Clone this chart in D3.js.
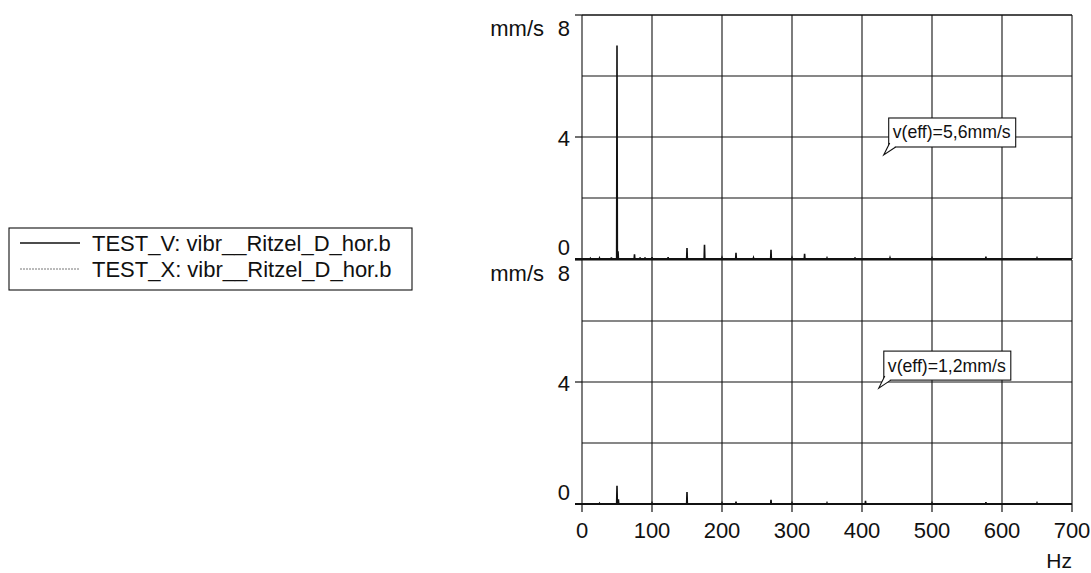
<!DOCTYPE html>
<html>
<head>
<meta charset="utf-8">
<script src="https://cdn.jsdelivr.net/npm/d3@7"></script>
<style>
  html, body { margin: 0; padding: 0; background: #fff; }
  svg { display: block; font-family: "Liberation Sans", Arial, sans-serif; }
</style>
</head>
<body>
<svg id="chart" width="1091" height="573"></svg>
<script>
// Frequency axis (Hz) and amplitude ticks (mm/s)
const xTicks = [0, 100, 200, 300, 400, 500, 600, 700];
const yGrid = [0, 2, 4, 6, 8];
const yLabels = [0, 4, 8];

// Spectrum lines of the upper channel (TEST_V): frequency in Hz, amplitude in mm/s
const freqV = [12, 25, 42, 50, 51.5, 75, 83, 90, 100, 123, 150, 175, 200, 220, 245, 270, 300, 318, 350, 390, 440, 500, 577, 650];
const ampV  = [0.02, 0.03, 0.05, 7.0, 0.25, 0.15, 0.05, 0.05, 0.06, 0.06, 0.36, 0.47, 0.04, 0.2, 0.04, 0.3, 0.04, 0.17, 0.03, 0.05, 0.04, 0.03, 0.08, 0.03];

// Spectrum lines of the lower channel (TEST_X)
const freqX = [25, 50, 52, 100, 150, 200, 220, 270, 300, 350, 405, 500, 577, 650];
const ampX  = [0.02, 0.6, 0.15, 0.03, 0.39, 0.03, 0.08, 0.14, 0.03, 0.03, 0.1, 0.03, 0.06, 0.03];

const seriesNames = ["TEST_V: vibr__Ritzel_D_hor.b", "TEST_X: vibr__Ritzel_D_hor.b"];
const effLabels = ["v(eff)=5,6mm/s", "v(eff)=1,2mm/s"];
// callout pointer position per panel [Hz, mm/s]
const effAnchorF = [431, 424];
const effAnchorV = [3.41, 3.8];

const svg = d3.select("#chart");
const ink = "#111";
const fs = 22;

const x = d3.scaleLinear().domain([0, 700]).range([582, 1072]);
const panels = [
  { y: d3.scaleLinear().domain([0, 8]).range([259, 15]), f: freqV, a: ampV },
  { y: d3.scaleLinear().domain([0, 8]).range([504, 260]), f: freqX, a: ampX }
];
// label baseline offsets relative to the tick line
const labelDy = { 0: -4, 4: 9, 8: 21 };

panels.forEach((p, i) => {
  const g = svg.append("g");
  const y = p.y;

  // grid
  g.selectAll(".vg").data(xTicks).join("line")
    .attr("x1", d => x(d)).attr("x2", d => x(d))
    .attr("y1", y(8)).attr("y2", y(0))
    .attr("stroke", ink).attr("stroke-width", 1.1);
  g.selectAll(".hg").data(yGrid).join("line")
    .attr("x1", x(0)).attr("x2", x(700))
    .attr("y1", d => y(d)).attr("y2", d => y(d))
    .attr("stroke", ink).attr("stroke-width", d => d === 8 && i === 0 ? 1.6 : 1.1);

  // left ticks and labels
  g.selectAll(".yt").data(yLabels).join("line")
    .attr("x1", x(0) - 7).attr("x2", x(0))
    .attr("y1", d => y(d)).attr("y2", d => y(d))
    .attr("stroke", ink).attr("stroke-width", 1.2);
  g.selectAll(".yl").data(yLabels).join("text")
    .attr("x", 570)
    .attr("y", d => y(d) + labelDy[d])
    .attr("text-anchor", "end")
    .attr("font-size", fs)
    .attr("fill", ink)
    .text(d => d);
  g.append("text")
    .attr("x", 544).attr("y", y(8) + labelDy[8])
    .attr("text-anchor", "end")
    .attr("font-size", fs)
    .attr("fill", ink)
    .text("mm/s");

  // spectrum: each line rises from the floor and falls back to it
  const pts = [[0, 0]];
  p.f.forEach((f, k) => {
    pts.push([f - 0.5, 0], [f, p.a[k]], [f + 0.5, 0]);
  });
  pts.push([700, 0]);
  const line = d3.line().x(d => x(d[0])).y(d => y(d[1]));
  g.append("path")
    .attr("d", line(pts))
    .attr("fill", "none")
    .attr("stroke", ink)
    .attr("stroke-width", 1.6);
  g.append("line")
    .attr("x1", x(0) - 7).attr("x2", x(700))
    .attr("y1", y(0)).attr("y2", y(0))
    .attr("stroke", ink).attr("stroke-width", 1.8);

  // effective value callout
  const px = x(effAnchorF[i]), py = y(effAnchorV[i]);
  const bx = px + 5, bh = 29, bw = 127;
  const by = py - 8 - bh;
  const cg = g.append("g");
  cg.append("rect")
    .attr("x", bx).attr("y", by).attr("width", bw).attr("height", bh)
    .attr("fill", "#fff").attr("stroke", ink).attr("stroke-width", 1.1);
  cg.append("path")
    .attr("d", `M${bx + 1},${by + bh - 4} L${px},${py} L${bx + 7},${by + bh}`)
    .attr("fill", "#fff").attr("stroke", ink).attr("stroke-width", 1.1);
  cg.append("text")
    .attr("x", bx + 4).attr("y", by + 20.5)
    .attr("font-size", 18.5)
    .attr("textLength", 118)
    .attr("lengthAdjust", "spacingAndGlyphs")
    .attr("fill", ink)
    .text(effLabels[i]);
});

// x axis ticks and labels under the lower panel
const yb = panels[1].y(0);
svg.selectAll(".xt").data(xTicks).join("line")
  .attr("x1", d => x(d)).attr("x2", d => x(d))
  .attr("y1", yb).attr("y2", yb + 8)
  .attr("stroke", ink).attr("stroke-width", 1.2);
svg.selectAll(".xl").data(xTicks).join("text")
  .attr("x", d => x(d)).attr("y", yb + 34)
  .attr("text-anchor", "middle")
  .attr("font-size", fs)
  .attr("fill", ink)
  .text(d => d);
svg.append("text")
  .attr("x", 1072).attr("y", 568)
  .attr("text-anchor", "end")
  .attr("font-size", 21)
  .attr("fill", ink)
  .text("Hz");

// legend
const lg = svg.append("g");
lg.append("rect")
  .attr("x", 9).attr("y", 228).attr("width", 403).attr("height", 62)
  .attr("fill", "#fff").attr("stroke", ink).attr("stroke-width", 1.1);
seriesNames.forEach((s, k) => {
  const ly = 243 + k * 26;
  lg.append("line")
    .attr("x1", 20).attr("x2", 80).attr("y1", ly).attr("y2", ly)
    .attr("stroke", k === 0 ? ink : "#777")
    .attr("stroke-width", k === 0 ? 1.3 : 1)
    .attr("stroke-dasharray", k === 0 ? null : "2,1");
  lg.append("text")
    .attr("x", 92).attr("y", ly + 8)
    .attr("font-size", fs)
    .attr("fill", ink)
    .text(s);
});
</script>
</body>
</html>
